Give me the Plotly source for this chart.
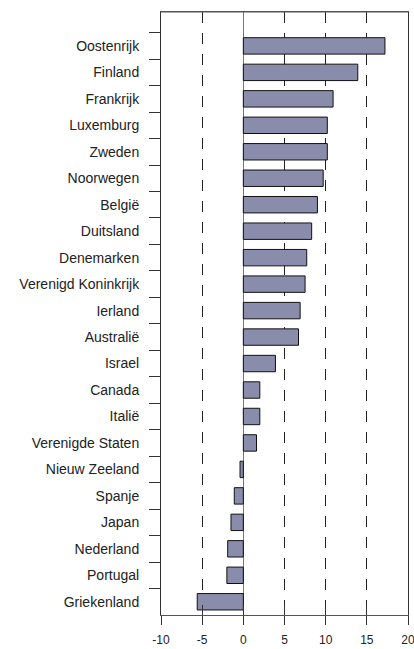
import plotly.graph_objects as go

countries = ["Oostenrijk", "Finland", "Frankrijk", "Luxemburg", "Zweden", "Noorwegen",
             "België", "Duitsland", "Denemarken", "Verenigd Koninkrijk", "Ierland",
             "Australië", "Israel", "Canada", "Italië", "Verenigde Staten",
             "Nieuw Zeeland", "Spanje", "Japan", "Nederland", "Portugal", "Griekenland"]
values = [17.2, 13.9, 10.9, 10.2, 10.2, 9.7, 9.0, 8.3, 7.7, 7.5, 6.9, 6.7, 3.9, 2.0, 2.0,
          1.6, -0.4, -1.1, -1.5, -1.9, -2.0, -5.6]
x_ticks = [-10, -5, 0, 5, 10, 15, 20]

fig = go.Figure()
fig.add_trace(go.Bar(
    x=values, y=countries, orientation="h", width=0.62,
    marker=dict(color="#8A8CAC", line=dict(color="#111111", width=1)),
    showlegend=False, hoverinfo="x+y",
))
# invisible trace on overlay axis for inside ticks
fig.add_trace(go.Scatter(x=[x_ticks[0], x_ticks[-1]], y=[countries[0], countries[0]],
                         xaxis="x2", mode="markers", marker=dict(opacity=0),
                         showlegend=False, hoverinfo="skip"))

font = "Liberation Sans, Arial, sans-serif"
fig.update_layout(
    width=414, height=649,
    margin=dict(l=161, r=6, t=12, b=34, autoexpand=False),
    paper_bgcolor="white", plot_bgcolor="white",
    font=dict(family=font, size=13, color="#222222"),
    bargap=0.38,
    xaxis=dict(
        range=[-10, 20], tickvals=x_ticks, ticktext=[str(v) for v in x_ticks],
        ticks="outside", ticklen=9, tickwidth=1, tickcolor="#333333",
        showline=True, linecolor="#555555", linewidth=1, mirror=True,
        showgrid=True, gridcolor="#222222", gridwidth=1, griddash="11px,10px",
        zeroline=True, zerolinecolor="#777777", zerolinewidth=1,
        tickfont=dict(size=12, family=font, color="#222222"),
        ticklabelstandoff=5,
        ticklabeloverflow="allow", automargin=False,
        fixedrange=True,
    ),
    xaxis2=dict(
        range=[-10, 20], tickvals=x_ticks, overlaying="x", side="bottom",
        ticks="inside", ticklen=10, tickwidth=1, tickcolor="#333333",
        showticklabels=False, showgrid=False, zeroline=False, showline=False,
        anchor="y", automargin=False,
    ),
    yaxis=dict(
        categoryorder="array", categoryarray=countries, autorange="reversed",
        tickson="boundaries", ticks="outside", ticklen=11, tickwidth=1,
        tickcolor="#333333", ticklabelstandoff=18,
        showline=True, linecolor="#333333", linewidth=1, mirror=True,
        showgrid=False, zeroline=False, automargin=False,
        tickfont=dict(size=14, family=font, color="#222222"),
    ),
    shapes=[dict(type="line", xref="paper", yref="paper", x0=0, x1=1, y0=1, y1=1,
                 line=dict(color="#555555", width=1), layer="above")],
)

fig.write_html("out.html",
               config={"displayModeBar": False},
               post_script="document.body.style.margin='0';document.body.style.overflow='hidden';")
